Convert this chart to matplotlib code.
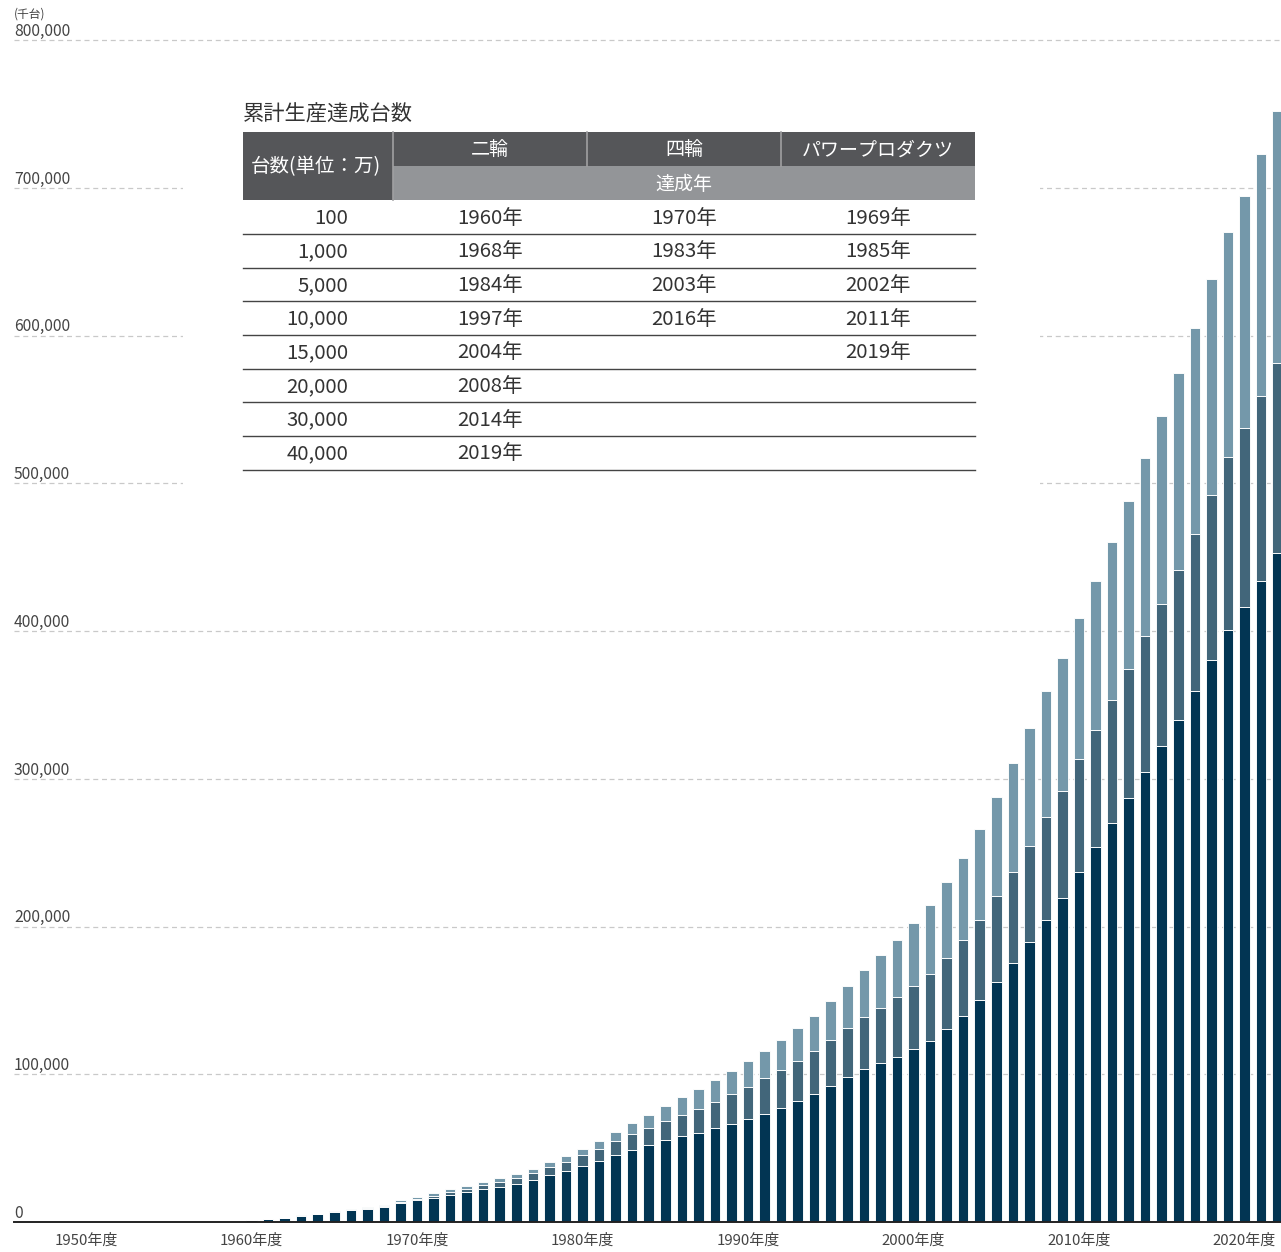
import matplotlib
matplotlib.use("Agg")
import matplotlib.pyplot as plt
from matplotlib.patches import Rectangle
from matplotlib.lines import Line2D
import numpy as np

plt.rcParams['font.family'] = ['Noto Sans CJK JP', 'DejaVu Sans']

# ---------------- data (千台, cumulative) ----------------
years = list(range(1960, 2023))
two_wheel = [1200, 1750, 2800, 4200, 5200, 6700, 7900, 8900, 10100, 12600,
             14600, 16300, 18600, 20300, 22300, 24000, 26000, 28600, 31700, 34400,
             37800, 41200, 45300, 48900, 52000, 55600, 58200, 60500, 63450, 66400,
             69750, 73350, 77400, 81900, 86850, 92250, 97900, 103500, 107550, 111400,
             116800, 122700, 130600, 139300, 150200, 162600, 175400, 189400, 204700, 219600,
             237200, 254000, 270000, 286900, 304500, 322100, 340000, 359300, 380300, 401000,
             416200, 433800, 452800]
four_wheel = [0, 0, 0, 5, 30, 80, 150, 300, 500, 800,
              1100, 1500, 1800, 2200, 2600, 3100, 3800, 4600, 5600, 6400,
              7300, 8200, 9200, 10350, 11700, 12800, 14300, 16200, 18000, 20000,
              21800, 23850, 25400, 27200, 29000, 30800, 33100, 35300, 37500, 40600,
              42800, 45300, 48200, 51500, 54500, 57900, 61600, 65200, 69300, 72400,
              76200, 79300, 83100, 87200, 92100, 96200, 101000, 106600, 111800, 116900,
              121000, 125200, 128900]
power_products = [100, 150, 200, 280, 350, 450, 550, 700, 900, 1200,
                  1400, 1600, 1800, 2000, 2200, 2400, 2600, 2900, 3150, 3800,
                  4600, 5600, 6750, 7650, 8800, 10350, 11900, 13300, 14600, 16000,
                  17550, 18700, 20250, 22050, 23850, 26550, 28800, 31950, 35600, 38800,
                  42700, 46400, 51200, 55900, 61600, 67200, 73500, 79600, 85200, 89700,
                  95600, 100700, 107200, 113800, 120300, 126900, 133500, 139300, 146200, 152100,
                  157300, 163800, 170000]

y_ticks = [0, 100000, 200000, 300000, 400000, 500000, 600000, 700000, 800000]
y_tick_labels = ['0', '100,000', '200,000', '300,000', '400,000', '500,000',
                 '600,000', '700,000', '800,000']
x_ticks = [1950, 1960, 1970, 1980, 1990, 2000, 2010, 2020]
x_tick_labels = ['1950年度', '1960年度', '1970年度', '1980年度', '1990年度',
                 '2000年度', '2010年度', '2020年度']

table_title = '累計生産達成台数'
table_head_left = '台数(単位：万)'
table_head_cols = ['二輪', '四輪', 'パワープロダクツ']
table_head_sub = '達成年'
thresholds = ['100', '1,000', '5,000', '10,000', '15,000', '20,000', '30,000', '40,000']
two_wheel_years = ['1960年', '1968年', '1984年', '1997年', '2004年', '2008年', '2014年', '2019年']
four_wheel_years = ['1970年', '1983年', '2003年', '2016年', '', '', '', '']
pp_years = ['1969年', '1985年', '2002年', '2011年', '2019年', '', '', '']

# ---------------- figure ----------------
W, H = 1281, 1252
fig = plt.figure(figsize=(W / 100, H / 100), dpi=100)
fig.patch.set_facecolor('white')

def fx(x):
    return x / W

def fy(y):
    return 1 - y / H

ax_left, ax_right, ax_bottom, ax_top = 14, 1281, 1222, 0
ax = fig.add_axes([fx(ax_left), fy(ax_bottom), (ax_right - ax_left) / W, (ax_bottom - ax_top) / H])
px_per_year = 16.55
x0_year = 1950 - (86 - ax_left) / px_per_year
x1_year = 1950 + (ax_right - 86) / px_per_year
ax.set_xlim(x0_year, x1_year)
px_per_unit = 147.75 / 100000
ax.set_ylim(0, (ax_bottom - ax_top) / px_per_unit)

c_dark = '#023553'
c_mid = '#42667a'
c_light = '#7498aa'

tw = np.array(two_wheel)
fw = np.array(four_wheel)
pp = np.array(power_products)
bw = 0.64
lw = 0.65
ax.bar(years, tw, width=bw, color=c_dark, edgecolor='white', linewidth=lw, zorder=3)
ax.bar(years, fw, bottom=tw, width=bw, color=c_mid, edgecolor='white', linewidth=lw, zorder=3)
ax.bar(years, pp, bottom=tw + fw, width=bw, color=c_light, edgecolor='white', linewidth=lw, zorder=3)

# gridlines
for v in y_ticks[1:]:
    ax.axhline(v, color='#c9c9c9', linewidth=0.9, linestyle=(0, (4, 3)), zorder=1)

# white box behind the table (interrupts grid lines)
ax.add_patch(Rectangle((fx(183), fy(560)), fx(1040) - fx(183), fy(60) - fy(560),
                       transform=fig.transFigure, facecolor='white', edgecolor='none', zorder=2))

# y labels
for v, lab in zip(y_ticks, y_tick_labels):
    ax.annotate(lab, xy=(0, v), xycoords=('axes fraction', 'data'),
                xytext=(0, 3), textcoords='offset points',
                ha='left', va='baseline', fontsize=11.3, color='#444444', zorder=5)
fig.text(fx(14), fy(14), '(千台)', ha='left', va='center', fontsize=8.5, color='#444444')

# axes styling
for s in ['top', 'right', 'left']:
    ax.spines[s].set_visible(False)
ax.spines['bottom'].set_color('#222222')
ax.spines['bottom'].set_linewidth(1.4)
ax.spines['bottom'].set_zorder(4)
ax.set_yticks([])
ax.set_xticks(x_ticks)
ax.set_xticklabels(x_tick_labels, fontsize=10.8, color='#444444')
ax.tick_params(axis='x', length=0, pad=8)
ax.set_facecolor('none')

# ---------------- table ----------------
txt_color = '#333333'
fig.text(fx(243), fy(115), table_title, ha='left', va='center', fontsize=15.3, color=txt_color)

dark_hdr = '#555659'
light_hdr = '#939598'
fig.patches.append(Rectangle((fx(243), fy(200)), fx(975) - fx(243), fy(132) - fy(200),
                             transform=fig.transFigure, facecolor=dark_hdr, edgecolor='none'))
fig.patches.append(Rectangle((fx(393), fy(200)), fx(975) - fx(393), fy(166) - fy(200),
                             transform=fig.transFigure, facecolor=light_hdr, edgecolor='none'))
sep_color = '#a0a0a2'
fig.lines.append(Line2D([fx(393), fx(393)], [fy(132), fy(200)], transform=fig.transFigure,
                        color=sep_color, linewidth=1.2))
for xs in [587, 781]:
    fig.lines.append(Line2D([fx(xs), fx(xs)], [fy(132), fy(166)], transform=fig.transFigure,
                            color=sep_color, linewidth=1.2))

fig.text(fx(316), fy(167), table_head_left, ha='center', va='center', fontsize=14, color='white')
col_centers = [490, 684, 878]
for cx, lab in zip(col_centers, table_head_cols):
    fig.text(fx(cx), fy(150), lab, ha='center', va='center', fontsize=13.7, color='white')
fig.text(fx(684), fy(184), table_head_sub, ha='center', va='center', fontsize=13.7, color='white')

row_h = 33.7
for i in range(len(thresholds)):
    yc = 218 + i * row_h
    yl = 234 + i * row_h
    fig.text(fx(348), fy(yc), thresholds[i], ha='right', va='center', fontsize=14.7, color=txt_color)
    for cx, col in zip(col_centers, [two_wheel_years, four_wheel_years, pp_years]):
        if col[i]:
            fig.text(fx(cx), fy(yc), col[i], ha='center', va='center', fontsize=14.7, color=txt_color)
    fig.lines.append(Line2D([fx(243), fx(975)], [fy(yl), fy(yl)], transform=fig.transFigure,
                            color='#444444', linewidth=1.0))

fig.savefig('out.png', dpi=100)
